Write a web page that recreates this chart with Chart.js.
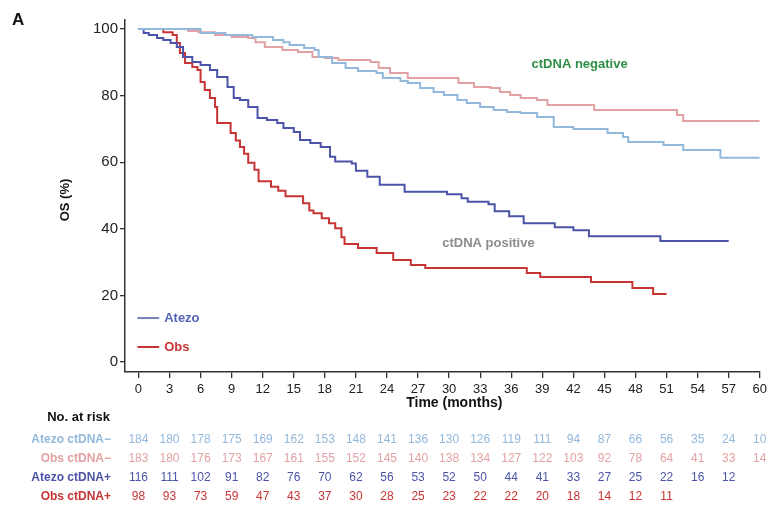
<!DOCTYPE html>
<html><head><meta charset="utf-8">
<script src="https://cdn.jsdelivr.net/npm/chart.js@4/dist/chart.umd.min.js"></script>
<style>html,body{margin:0;padding:0;background:#fff}#wrap{width:771px;height:508px;position:relative}</style>
</head><body><div id="wrap"><canvas id="c" width="771" height="508"></canvas></div>
<script>
// ---- data ----
const monthTicks = [0,3,6,9,12,15,18,21,24,27,30,33,36,39,42,45,48,51,54,57,60];
const yTicks = [0,20,40,60,80,100];

const atezoNegT = [0,6,8.4,11,13,14,14.6,16,17,17.4,18.7,20,21.2,23,23.6,25.3,26,27.2,28.5,29.5,30.8,31.7,33,34.3,35.6,36.9,38.5,40.1,42,45.3,46.8,47.3,50.7,52.6,56.2,60];
const atezoNegS = [100,98.8,98.2,97.6,96.7,96,95.2,94.3,93.7,91.6,89.8,88.3,87.4,86.8,85.3,84.4,83.8,82.3,81.1,80.2,78.7,77.8,76.6,75.7,75.1,74.8,73.6,70.6,70,68.8,67.6,66.1,65.2,63.7,61.3,61.3];

const obsNegT = [0,4.8,5.8,7.4,9,10.6,11.3,12.2,13.9,15.4,16.8,18,19.3,22.4,23.2,24.3,26,30.9,32.4,34,34.9,35.9,36.9,38.5,39.5,44,52,52.6,60];
const obsNegS = [100,99.4,99,98.2,97.6,97.3,96,94.6,93.7,93.1,91.6,91.3,90.7,90.1,88.3,86.8,85.3,83.8,82.6,82.3,81.1,80.2,79.3,78.7,77.2,75.7,74.2,72.4,72.4];

const atezoPosT = [0,0.5,1,1.8,2.4,3.1,3.7,4.3,5.2,6,6.9,7.6,8.6,9.2,9.8,10.6,11.5,12.4,13.4,14,15,15.6,16.6,17.6,18.5,19,20.6,21,22.1,23.3,25.7,29.8,31.2,31.8,33.8,34.4,35.8,37.2,40.2,42,43.5,50.4,57];
const atezoPosS = [100,98.8,98.2,97.3,96.7,95.8,94.6,91.6,90.1,89.2,87.7,85.6,82.6,79.3,78.7,76.6,73.3,72.7,71.8,70.3,69.1,66.7,65.8,64.6,61.6,60.2,59.6,57.4,55.6,53.2,51.1,50.4,49.2,48.1,47.4,45.3,43.8,41.7,40.5,39.6,37.8,36.3,36.3];

const obsPosT = [0,2.4,3.3,3.7,4.0,4.5,5.2,5.7,6.0,6.4,6.9,7.4,7.6,8.9,9.4,9.8,10.2,10.6,11.2,11.6,12.8,13.5,14.2,15.9,16.5,16.9,17.7,18.4,19.0,19.6,19.9,21.2,23.0,24.6,26.3,27.7,37.5,38.8,43.7,47.7,49.7,51];
const obsPosS = [100,99,98.2,95.8,92.8,89.8,88.6,87.7,84.1,81.7,79.3,76.6,71.8,68.8,66.5,64.6,62.5,59.8,57.7,54.3,52.6,51.4,49.8,47.7,45.5,44.7,43.2,41.7,40.2,37.5,35.4,34.2,32.7,30.6,29.1,28.2,26.7,25.5,24,22.2,20.4,20.4];

const riskLabels = ['Atezo ctDNA\u2212','Obs ctDNA\u2212','Atezo ctDNA+','Obs ctDNA+'];
const atezoNegRisk = [184,180,178,175,169,162,153,148,141,136,130,126,119,111,94,87,66,56,35,24,10];
const obsNegRisk = [183,180,176,173,167,161,155,152,145,140,138,134,127,122,103,92,78,64,41,33,14];
const atezoPosRisk = [116,111,102,91,82,76,70,62,56,53,52,50,44,41,33,27,25,22,16,12];
const obsPosRisk = [98,93,73,59,47,43,37,30,28,25,23,22,22,20,18,14,12,11];

// ---- styles ----
const C_AN = '#92b8dc', C_ON = '#e2a2a4', C_AP = '#4b54a8', C_OP = '#c83434';
const FF = '"Liberation Sans", Arial, Helvetica, sans-serif';

function pts(t, s){ return t.map((x,i)=>({x:x, y:s[i]})); }
function ds(label, t, s, col){
  return {label, data: pts(t,s), borderColor: col, backgroundColor: col, borderWidth: 2,
    stepped: 'before', pointRadius: 0, fill: false, tension: 0};
}

const textPlugin = {
  id: 'texts',
  afterDraw(chart){
    const ctx = chart.ctx, xs = chart.scales.x, ys = chart.scales.y;
    ctx.save();
    ctx.fillStyle = '#111'; ctx.font = 'bold 17px ' + FF; ctx.textAlign = 'left'; ctx.textBaseline = 'middle';
    ctx.fillText('A', 12, 20);
    ctx.save(); ctx.translate(65, 200); ctx.rotate(-Math.PI/2);
    ctx.font = 'bold 13px ' + FF; ctx.textAlign = 'center'; ctx.fillStyle = '#111';
    ctx.fillText('OS (%)', 0, 0); ctx.restore();
    ctx.font = 'bold 14px ' + FF; ctx.textAlign = 'center'; ctx.fillStyle = '#111';
    ctx.fillText('Time (months)', xs.getPixelForValue(30.5), 403);
    ctx.font = 'bold 13px ' + FF;
    ctx.fillStyle = '#2f8f46'; ctx.fillText('ctDNA negative', xs.getPixelForValue(42.6), ys.getPixelForValue(89.5));
    ctx.fillStyle = '#8c8c8c'; ctx.fillText('ctDNA positive', xs.getPixelForValue(33.8), ys.getPixelForValue(35.5));
    const lx0 = xs.getPixelForValue(-0.1), lx1 = xs.getPixelForValue(2);
    ctx.lineWidth = 2;
    ctx.strokeStyle = '#7480b8'; ctx.beginPath(); ctx.moveTo(lx0, ys.getPixelForValue(13.2)); ctx.lineTo(lx1, ys.getPixelForValue(13.2)); ctx.stroke();
    ctx.strokeStyle = C_OP; ctx.beginPath(); ctx.moveTo(lx0, ys.getPixelForValue(4.5)); ctx.lineTo(lx1, ys.getPixelForValue(4.5)); ctx.stroke();
    ctx.textAlign = 'left'; ctx.font = 'bold 13px ' + FF;
    ctx.fillStyle = '#5563b5'; ctx.fillText('Atezo', lx1 + 5, ys.getPixelForValue(13.2));
    ctx.fillStyle = C_OP; ctx.fillText('Obs', lx1 + 5, ys.getPixelForValue(4.5));
    ctx.textAlign = 'right'; ctx.fillStyle = '#111'; ctx.font = 'bold 13px ' + FF;
    ctx.fillText('No. at risk', 110, 417);
    const rows = [atezoNegRisk, obsNegRisk, atezoPosRisk, obsPosRisk];
    const cols = [C_AN, C_ON, C_AP, C_OP];
    const rowY = [440, 459, 478, 497];
    rows.forEach((r, i) => {
      ctx.textAlign = 'right'; ctx.fillStyle = cols[i]; ctx.font = 'bold 12px ' + FF;
      ctx.fillText(riskLabels[i], 111, rowY[i]);
      ctx.textAlign = 'center'; ctx.font = '12px ' + FF;
      r.forEach((v, j) => ctx.fillText(String(v), xs.getPixelForValue(monthTicks[j]), rowY[i]));
    });
    ctx.restore();
  }
};

new Chart(document.getElementById('c'), {
  type: 'line',
  data: { datasets: [
    ds('Atezo ctDNA\u2212', atezoNegT, atezoNegS, C_AN),
    ds('Obs ctDNA\u2212', obsNegT, obsNegS, C_ON),
    ds('Atezo ctDNA+', atezoPosT, atezoPosS, C_AP),
    ds('Obs ctDNA+', obsPosT, obsPosS, C_OP)
  ]},
  options: {
    responsive: false, animation: false, devicePixelRatio: 1,
    layout: { padding: { top: 20, right: 11, left: 0, bottom: 0 } },
    plugins: { legend: { display: false }, tooltip: { enabled: false } },
    scales: {
      x: { type: 'linear', min: -1.3, max: 60,
        afterBuildTicks: s => { s.ticks = monthTicks.map(v => ({ value: v })); },
        afterFit: s => { s.height = 136; },
        grid: { display: true, drawOnChartArea: false, drawTicks: true, tickLength: 6, color: '#333', lineWidth: 1.3 },
        border: { display: true, color: '#333', width: 1.5 },
        ticks: { font: { size: 13, family: FF }, color: '#222', padding: 4, maxRotation: 0, autoSkip: false }
      },
      y: { type: 'linear', min: -3, max: 102.7,
        afterBuildTicks: s => { s.ticks = yTicks.map(v => ({ value: v })); },
        afterFit: s => { s.width = 125; },
        grid: { display: true, drawOnChartArea: false, drawTicks: true, tickLength: 5, color: '#333', lineWidth: 1.3 },
        border: { display: true, color: '#333', width: 1.5 },
        ticks: { font: { size: 15, family: FF }, color: '#222', padding: 2 }
      }
    }
  },
  plugins: [textPlugin]
});
</script>
</body></html>
